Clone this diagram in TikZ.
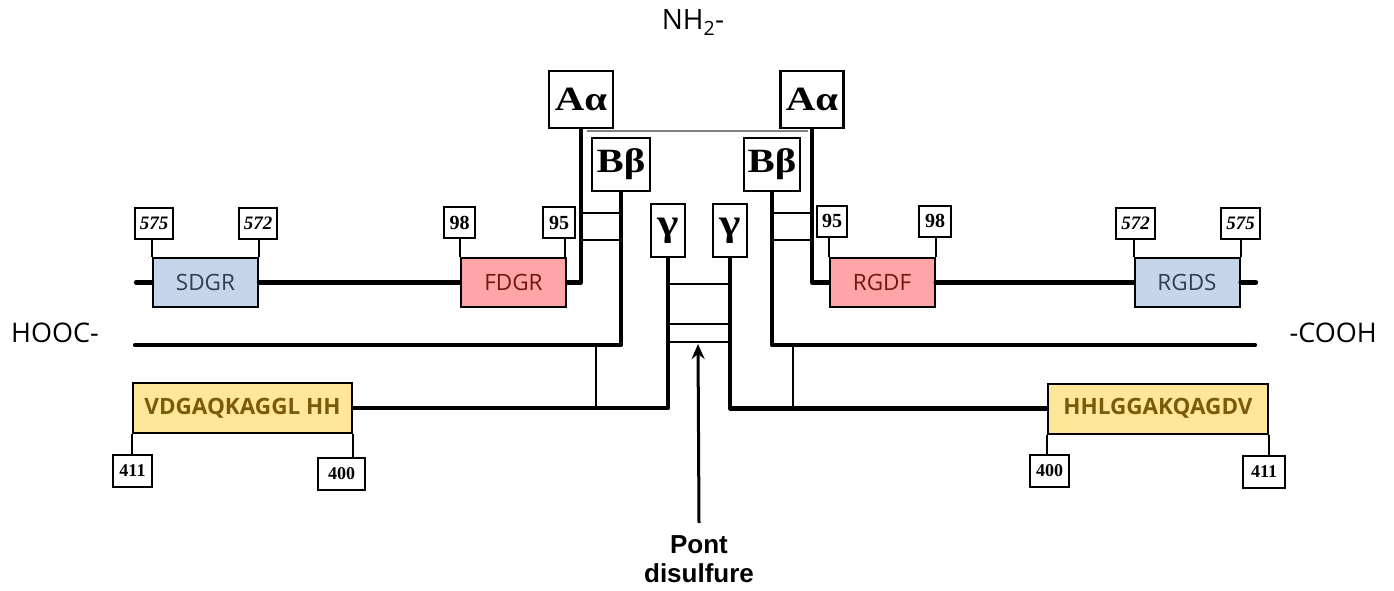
\documentclass[tikz,border=0pt]{standalone}
\usepackage{fontspec}
\setmainfont{Liberation Serif}
\newfontfamily\osans{Open Sans}
\newfontfamily\asans{Liberation Sans}
\newfontfamily\grfont[FakeStretch=1.2]{Liberation Serif}
\usetikzlibrary{arrows.meta,calc}
\definecolor{seqblue}{RGB}{197,213,234}
\definecolor{seqpink}{RGB}{255,165,168}
\definecolor{seqyellow}{RGB}{255,230,153}
\definecolor{txtblue}{RGB}{50,62,82}
\definecolor{txtred}{RGB}{112,22,22}
\definecolor{txtgold}{RGB}{120,92,10}
\begin{document}
\begin{tikzpicture}[x=1pt,y=-1pt,
  thickln/.style={line width=4.2pt, line cap=round, line join=round},
  thinln/.style={line width=2pt},
  grbox/.style={draw, line width=2.2pt, inner sep=0pt, font=\grfont\bfseries\fontsize{34}{34}\selectfont},
  numbox/.style={draw, line width=2pt, inner sep=0pt, minimum height=31pt, font=\bfseries\fontsize{20}{20}\selectfont},
  seqbox/.style={draw, line width=2pt, inner sep=0pt, minimum height=49pt},
  bluebox/.style={seqbox, fill=seqblue, minimum width=105pt, text=txtblue, font=\osans\fontsize{22.5}{22.5}\selectfont},
  pinkbox/.style={seqbox, fill=seqpink, minimum width=105pt, text=txtred, font=\osans\fontsize{22.5}{22.5}\selectfont},
  yellowbox/.style={seqbox, fill=seqyellow, minimum width=219pt, minimum height=50pt, text=txtgold, font=\osans\bfseries\fontsize{22.5}{22.5}\selectfont},
  endlabel/.style={inner sep=0pt, font=\osans\fontsize{27}{27}\selectfont}
]
\useasboundingbox (0,0) rectangle (1394,591);

% chain heads
\node[grbox, minimum width=64pt, minimum height=57pt] (Aa1) at (581,99.5) {Aα};
\node[grbox, minimum width=63pt, minimum height=57pt] (Aa2) at (812,99.5) {Aα};
\node[grbox, minimum width=58pt, minimum height=53pt] (Bb1) at (621,164.5) {Bβ};
\node[grbox, minimum width=56pt, minimum height=53pt] (Bb2) at (772,164.5) {Bβ};
\node[grbox, minimum width=34pt, minimum height=53pt, font=\grfont\bfseries\fontsize{38}{38}\selectfont] (g1) at (668,230.5) {γ};
\node[grbox, minimum width=34pt, minimum height=53pt, font=\grfont\bfseries\fontsize{38}{38}\selectfont] (g2) at (730,230.5) {γ};

% sequence boxes
\node[bluebox] (SDGR) at (205.5,282.5) {SDGR};
\node[pinkbox] (FDGR) at (513.5,282.5) {FDGR};
\node[pinkbox] (RGDF) at (882,282.5) {RGDF};
\node[bluebox] (RGDS) at (1187,282.5) {RGDS};
\node[yellowbox] (VDGA) at (242.5,408) {VDGAQKAGGL HH};
\node[yellowbox, minimum width=220pt] (HHLG) at (1158,408.5) {HHLGGAKQAGDV};

% number boxes
\node[numbox, minimum width=38pt, font=\bfseries\itshape\fontsize{19}{19}\selectfont] (n575L) at (154,223) {575};
\node[numbox, minimum width=38pt, font=\bfseries\itshape\fontsize{19}{19}\selectfont] (n572L) at (258,223) {572};
\node[numbox, minimum width=31pt] (n98L) at (459.5,222.5) {98};
\node[numbox, minimum width=32pt] (n95L) at (559,222.5) {95};
\node[numbox, minimum width=30pt] (n95R) at (832,221) {95};
\node[numbox, minimum width=32pt] (n98R) at (935,221) {98};
\node[numbox, minimum width=39pt, font=\bfseries\itshape\fontsize{19}{19}\selectfont] (n572R) at (1135.5,223) {572};
\node[numbox, minimum width=39pt, font=\bfseries\itshape\fontsize{19}{19}\selectfont] (n575R) at (1240.5,223) {575};
\node[numbox, minimum width=39pt, minimum height=32pt, font=\bfseries\fontsize{18}{18}\selectfont] (n411L) at (132.5,471) {411};
\node[numbox, minimum width=47pt, minimum height=32pt, font=\bfseries\fontsize{18}{18}\selectfont] (n400L) at (341.5,474) {400};
\node[numbox, minimum width=39pt, minimum height=32pt, font=\bfseries\fontsize{18}{18}\selectfont] (n400R) at (1049.5,471) {400};
\node[numbox, minimum width=42pt, minimum height=32pt, font=\bfseries\fontsize{18}{18}\selectfont] (n411R) at (1264,472) {411};

% end labels
\node[endlabel, anchor=base, font=\osans\fontsize{28}{28}\selectfont] (nh2) at (693,30) {NH\textsubscript{2}-};
\node[endlabel, anchor=base west] (hooc) at (11,342) {HOOC-};
\node[endlabel, anchor=base east] (cooh) at (1377,342) {-COOH};
\node[inner sep=0pt, anchor=north, align=center, font=\asans\bfseries\fontsize{26}{29}\selectfont] (pont) at (699,535) {Pont\\disulfure};

% free ends
\coordinate (aL) at (136,282.5);
\coordinate (aR) at (1256,282.5);
\coordinate (bL) at (135,345);
\coordinate (bR) at (1255,345);
\coordinate (bridge) at (698,344);
\coordinate (topL) at (587,131);
\coordinate (topR) at (808,131);
\coordinate (lkL) at (596,345);
\coordinate (lkR) at (793,345);

% A alpha chains
\draw[thickln] (aL) -- (SDGR.west);
\draw[thickln] (SDGR.east) -- (FDGR.west);
\draw[thickln] (Aa1.south) |- (FDGR.east);
\draw[thickln] (Aa2.south) |- (RGDF.west);
\draw[thickln] (RGDF.east) -- (RGDS.west);
\draw[thickln] (RGDS.east) -- (aR);
% B beta chains
\draw[thickln] (Bb1.south) |- (bL);
\draw[thickln] (Bb2.south) |- (bR);
% gamma chains
\draw[thickln] (g1.south) |- (VDGA.east);
\draw[thickln] (g2.south) |- (HHLG.west);

% top grey link
\draw[line width=2.4pt, gray] (topL) -- (topR);

% disulfide links
\foreach \yy in {213,240}{
  \draw[thinln] (Aa1.south |- 0,\yy) -- (Bb1.south |- 0,\yy);
  \draw[thinln] (Bb2.south |- 0,\yy) -- (Aa2.south |- 0,\yy);
}
\foreach \yy in {284,324,342}{
  \draw[thinln] (g1.south |- 0,\yy) -- (g2.south |- 0,\yy);
}
\draw[thinln] (lkL) -- (lkL |- VDGA.east);
\draw[thinln] (lkR) -- (lkR |- HHLG.west);

% number ticks
\draw[thinln] (SDGR.north west) -- (SDGR.north west |- n575L.south);
\draw[thinln] (SDGR.north east) -- (SDGR.north east |- n572L.south);
\draw[thinln] (FDGR.north west) -- (FDGR.north west |- n98L.south);
\draw[thinln] ([xshift=-2pt]FDGR.north east) -- ([xshift=-2pt]FDGR.north east |- n95L.south);
\draw[thinln] (RGDF.north west) -- (RGDF.north west |- n95R.south);
\draw[thinln] (RGDF.north east) -- (RGDF.north east |- n98R.south);
\draw[thinln] (RGDS.north west) -- (RGDS.north west |- n572R.south);
\draw[thinln] (RGDS.north east) -- (RGDS.north east |- n575R.south);
\draw[thinln] (VDGA.south west) -- (VDGA.south west |- n411L.north);
\draw[thinln] (VDGA.south east) -- (VDGA.south east |- n400L.north);
\draw[thinln] (HHLG.south west) -- (HHLG.south west |- n400R.north);
\draw[thinln] (HHLG.south east) -- (HHLG.south east |- n411R.north);

% arrow
\draw[line width=3pt, -{Stealth[length=15pt,width=13pt]}] ([yshift=12pt]pont.north) -- (bridge);
\end{tikzpicture}
\end{document}
